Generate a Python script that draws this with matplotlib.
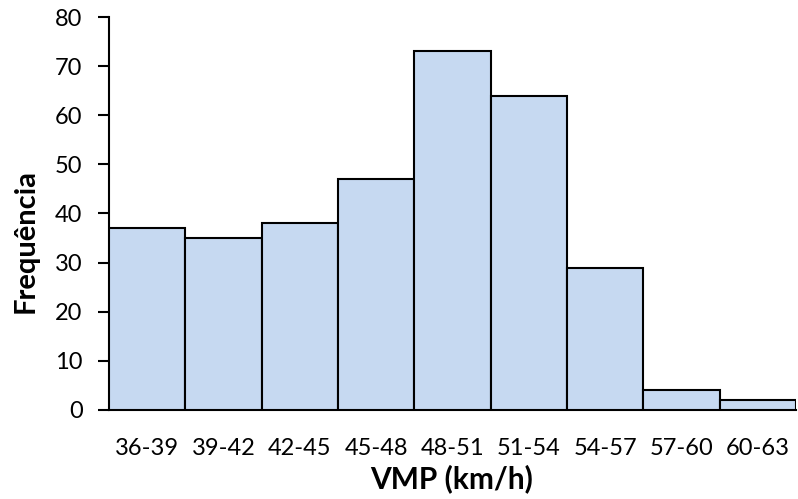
import matplotlib
matplotlib.use("Agg")
import matplotlib.pyplot as plt

categories = ["36-39", "39-42", "42-45", "45-48", "48-51", "51-54", "54-57", "57-60", "60-63"]
frequencies = [37, 35, 38, 47, 73, 64, 29, 4, 2]
y_ticks = [0, 10, 20, 30, 40, 50, 60, 70, 80]

plt.rcParams["font.family"] = ["Lato", "DejaVu Sans"]

W, H = 798, 499
fig = plt.figure(figsize=(W / 100, H / 100), dpi=100)
ax = fig.add_axes([109 / W, 1 - 410 / H, (796 - 109) / W, (410 - 17) / H])

x = list(range(len(categories)))
ax.bar(x, frequencies, width=1.0, color="#C6D9F1", edgecolor="black", linewidth=1.5, zorder=3)

ax.set_xlim(-0.5, len(categories) - 0.5)
ax.set_ylim(0, 80)
ax.set_yticks(y_ticks)
ax.set_xticks(x)
ax.set_xticklabels(categories)

for side in ("top", "right"):
    ax.spines[side].set_visible(False)
for side in ("left", "bottom"):
    ax.spines[side].set_linewidth(1.5)
    ax.spines[side].set_color("black")

ax.tick_params(axis="y", direction="out", length=8, width=1.5, labelsize=17, pad=11)
ax.tick_params(axis="x", length=0, labelsize=17, pad=20)

# axis titles placed in figure pixel coordinates
fig.text(452 / W, 11 / H, "VMP (km/h)", fontsize=21.5, fontweight="bold",
         ha="center", va="baseline")
fig.text(26 / W, 1 - 241 / H, "Frequência", fontsize=21, fontweight="bold",
         rotation=90, ha="center", va="center")

fig.savefig("out.png", dpi=100)
